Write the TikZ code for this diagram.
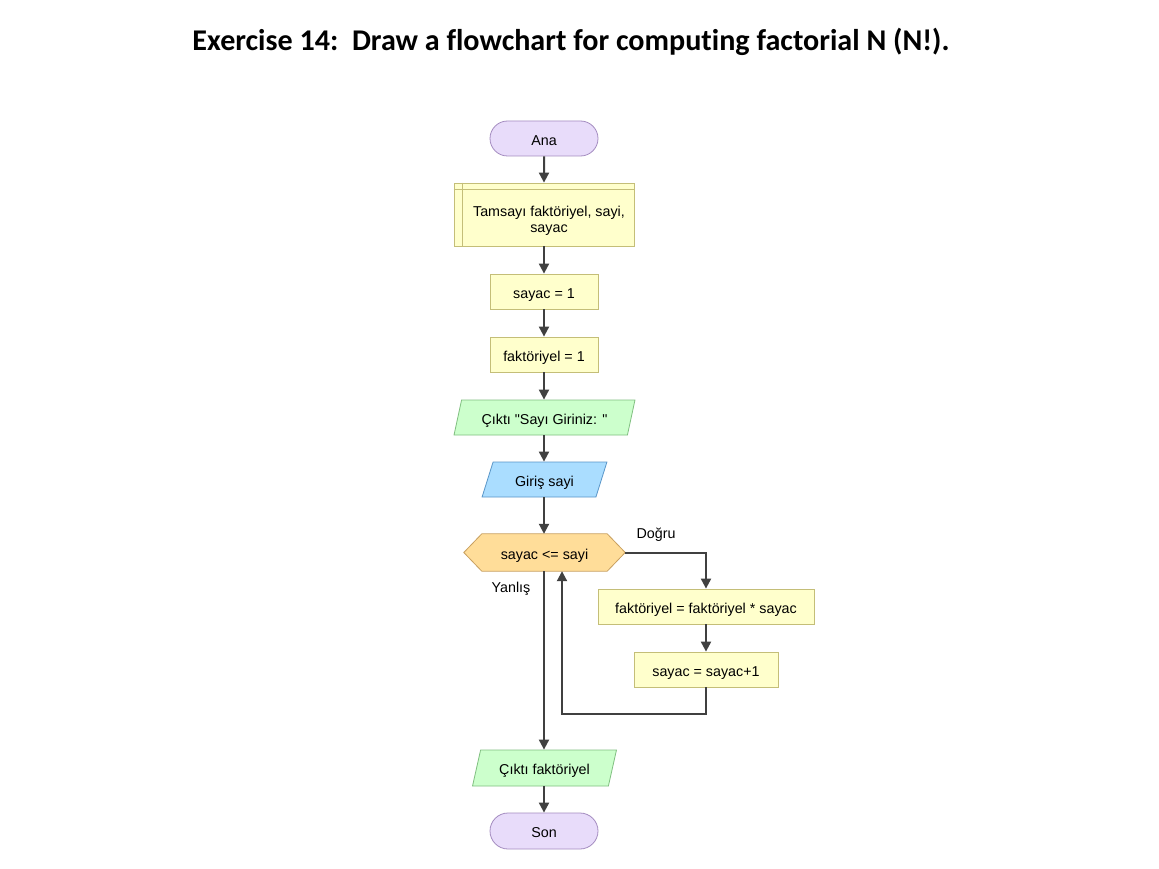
\documentclass[tikz,border=0pt]{standalone}
\usepackage{fontspec}
\setmainfont{Liberation Sans}
\newfontfamily\titlefont[Ligatures=NoCommon]{Carlito}
\usetikzlibrary{shapes.geometric,shapes.misc,arrows.meta}
\definecolor{lineC}{HTML}{404040}
\definecolor{termF}{HTML}{E8DCFA}
\definecolor{termD}{HTML}{A48CC0}
\definecolor{procF}{HTML}{FFFFCC}
\definecolor{procD}{HTML}{C4BE78}
\definecolor{outF}{HTML}{CCFFCC}
\definecolor{outD}{HTML}{80BF80}
\definecolor{inF}{HTML}{AADDFF}
\definecolor{inD}{HTML}{5A96C8}
\definecolor{decF}{HTML}{FFDD99}
\definecolor{decD}{HTML}{C8A060}
\tikzset{
  txt/.style={font=\fontsize{14.3}{16}\selectfont, text=black, inner sep=0pt, align=center, text height=13.5pt, text depth=0pt},
  term/.style={txt, rounded rectangle, draw=termD, fill=termF, line width=0.8pt, minimum width=108pt, minimum height=35pt},
  proc/.style={txt, rectangle, draw=procD, fill=procF, line width=0.8pt, minimum height=35pt},
  outbox/.style={txt, trapezium, trapezium stretches=true, trapezium left angle=67, trapezium right angle=113, draw=outD, fill=outF, line width=0.8pt, minimum height=35pt},
  inbox/.style={txt, trapezium, trapezium stretches=true, trapezium left angle=65, trapezium right angle=115, draw=inD, fill=inF, line width=0.8pt, minimum height=35pt},
  conn/.style={draw=lineC, line width=2pt, -{Triangle[length=10pt,width=10pt]}},
  lbl/.style={font=\fontsize{14.3}{16}\selectfont, inner sep=0pt}
}
\begin{document}
\begin{tikzpicture}[x=1pt,y=-1pt]
\useasboundingbox (0,0) rectangle (1159,869);
\fill[white] (0,0) rectangle (1159,869);
\node[font=\titlefont\bfseries\fontsize{30.1}{34}\selectfont, inner sep=0pt] (title) at (571,42) {Exercise 14:\ \ Draw a flowchart for computing factorial N (N!).};

\node[term] (ana) at (544,138.5) {Ana};
\node[proc, minimum width=180pt, minimum height=63pt] (decl) at (544,214.5) {};
\draw[procD, line width=0.8pt] ([xshift=9pt]decl.north west) -- ([xshift=9pt]decl.south west);
\draw[procD, line width=0.8pt] ([yshift=-7pt]decl.north west) -- ([yshift=-7pt]decl.north east);
\node[font=\fontsize{14.3}{16.5}\selectfont, inner sep=0pt, align=center] (decltext) at (549,221) {Tamsayı faktöriyel, sayi,\\sayac};
\node[proc, minimum width=108pt] (s1) at (544,291.5) {sayac = 1};
\node[proc, minimum width=108pt] (f1) at (544,354.5) {faktöriyel = 1};
\node[outbox, minimum width=181pt] (o1) at (544.5,417.5) {Çıktı \textquotedbl Sayı Giriniz: \textquotedbl};
\node[inbox, minimum width=125pt] (in1) at (544.5,479.5) {Giriş sayi};

\node[txt, minimum width=125pt, minimum height=37pt] (dec) at (544.5,552.5) {};
\filldraw[draw=decD, fill=decF, line width=0.8pt] (dec.north west) -- (dec.north east) -- ([xshift=18pt]dec.east) -- (dec.south east) -- (dec.south west) -- ([xshift=-18pt]dec.west) -- cycle;
\node[txt] (dectext) at (dec) {sayac <= sayi};
\coordinate (decR) at ([xshift=18pt]dec.east);

\node[proc, minimum width=216pt] (p1) at (706,606.5) {faktöriyel = faktöriyel * sayac};
\node[proc, minimum width=144pt] (p2) at (706,669.5) {sayac = sayac+1};

\node[outbox, minimum width=144pt, minimum height=36pt] (o2) at (544.5,768) {Çıktı faktöriyel};
\node[term, minimum height=36pt] (son) at (544,831) {Son};

\node[lbl] (dogru) at (656,535) {Doğru};
\node[lbl] (yanlis) at (511,589) {Yanlış};

\coordinate (loopA) at (706,714);
\coordinate (loopB) at (562,714);

\draw[conn] (ana) -- (decl);
\draw[conn] (decl) -- (s1);
\draw[conn] (s1) -- (f1);
\draw[conn] (f1) -- (o1.north -| f1);
\draw[conn] (o1.south -| f1) -- (in1.north -| f1);
\draw[conn] (in1.south -| f1) -- (dec.north -| f1);
\draw[conn] (decR) -| (p1.north);
\draw[conn] (p1) -- (p2);
\draw[conn] (p2.south) -- (loopA) -- (loopB) -- (loopB |- dec.south);
\draw[conn] (dec.south -| f1) -- (o2.north -| f1);
\draw[conn] (o2.south -| f1) -- (son.north);
\end{tikzpicture}
\end{document}
